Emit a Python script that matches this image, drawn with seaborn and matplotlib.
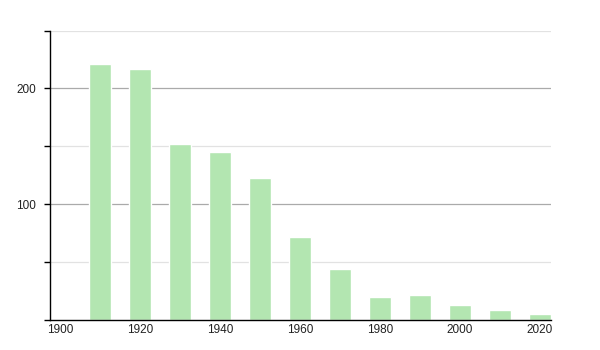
import matplotlib
matplotlib.use("Agg")
import matplotlib.pyplot as plt
import seaborn as sns
import pandas as pd
from matplotlib.ticker import MultipleLocator

years = [1910, 1920, 1930, 1940, 1950, 1960, 1970, 1980, 1990, 2000, 2010, 2020]
values = [221, 217, 152, 145, 123, 72, 44, 20, 22, 13, 9, 5]
x_ticks = [1900, 1920, 1940, 1960, 1980, 2000, 2020]
y_ticks = [100, 200]

sns.set_style("white")
plt.rcParams['font.family'] = ['Liberation Sans', 'DejaVu Sans']

df = pd.DataFrame({"year": years, "value": values})

fig = plt.figure(figsize=(6, 3.5), dpi=100)
ax = fig.add_axes([50/600, 30/350, (551-50)/600, (320-30.5)/350])

sns.barplot(data=df, x="year", y="value", native_scale=True, width=0.53,
            color="#b3e6b1", saturation=1, ax=ax, zorder=3)

ax.set_xlim(1897.5, 2022.75)
ax.set_ylim(0, 250)
ax.set_xticks(x_ticks)
ax.set_xticklabels([str(t) for t in x_ticks])
ax.set_yticks(y_ticks)
ax.set_yticklabels([str(t) for t in y_ticks])
ax.yaxis.set_minor_locator(MultipleLocator(50))

ax.grid(False)
for v in [100, 200]:
    ax.axhline(v, color="#aaaaaa", lw=0.9, zorder=1)
for v in [50, 150, 250]:
    ax.axhline(v, color="#e2e2e2", lw=0.9, zorder=1)

for s in ["top", "right"]:
    ax.spines[s].set_visible(False)
for s in ["left", "bottom"]:
    ax.spines[s].set_color("black")
    ax.spines[s].set_linewidth(1.0)
    ax.spines[s].set_zorder(5)

ax.tick_params(axis="y", which="both", left=True, length=4, width=1, color="black",
               labelsize=8.5, pad=6, labelcolor="#222222")
ax.tick_params(axis="x", which="both", bottom=False, length=0, labelsize=8.5,
               pad=3, labelcolor="#222222")
ax.set_xlabel("")
ax.set_ylabel("")

fig.savefig("out.png", dpi=100)
